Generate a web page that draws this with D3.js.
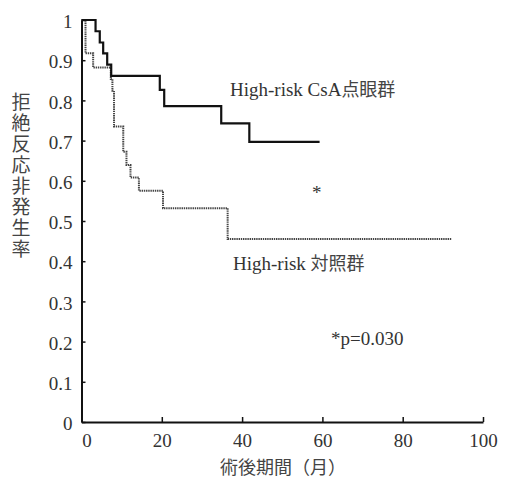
<!DOCTYPE html>
<html>
<head>
<meta charset="utf-8">
<script src="https://cdn.jsdelivr.net/npm/d3@7"></script>
<style>
  body { margin: 0; background: #fff; }
  svg { display: block; }
  .jp { font-family: "Noto Sans CJK JP", sans-serif; fill: #444; }
  .note { font-family: "Liberation Serif", serif; font-size: 19px; fill: #333; }
</style>
</head>
<body>
<div id="chart"></div>
<script>
// High-risk CsA eye-drop group (months, survival)
const csaMonths = [0, 3.5, 4.55, 5.4, 6.4, 7.4, 19.5, 20.6, 34.8, 41.8, 59.3];
const csaSurv   = [1, 0.972, 0.944, 0.917, 0.889, 0.861, 0.826, 0.786, 0.743, 0.697, 0.697];
// High-risk control group
const ctrlMonths = [0, 1.0, 2.9, 7.3, 7.7, 8.1, 10.4, 11.2, 12.2, 14.3, 20.3, 36.4, 92.2];
const ctrlSurv   = [1, 0.917, 0.882, 0.853, 0.824, 0.735, 0.672, 0.639, 0.608, 0.575, 0.532, 0.455, 0.455];

const xTicks = [0, 20, 40, 60, 80, 100];
const yTicks = [0, 0.1, 0.2, 0.3, 0.4, 0.5, 0.6, 0.7, 0.8, 0.9, 1];
const yTitle = "拒絶反応非発生率";

const width = 510, height = 478;
const svg = d3.select("#chart").append("svg").attr("width", width).attr("height", height);

const x = d3.scaleLinear().domain([0, 100]).range([81.5, 483]);
const y = d3.scaleLinear().domain([0, 1]).range([422, 20]);

// axes
const xAxis = svg.append("g")
  .attr("transform", "translate(0," + y(0) + ")")
  .call(d3.axisBottom(x).tickValues(xTicks).tickSizeInner(-5).tickSizeOuter(0).tickPadding(12)
    .tickFormat(d3.format("d")));
const yAxis = svg.append("g")
  .attr("transform", "translate(" + x(0) + ",0)")
  .call(d3.axisLeft(y).tickValues(yTicks).tickSizeInner(-4).tickSizeOuter(0).tickPadding(9)
    .tickFormat(d => d === 0 || d === 1 ? String(d) : d.toFixed(1)));

[xAxis, yAxis].forEach(g => {
  g.attr("font-family", "Liberation Serif, serif").attr("font-size", 19);
  g.select(".domain").attr("stroke", "#111").attr("stroke-width", 2);
  g.selectAll(".tick line").attr("stroke", "#111").attr("stroke-width", 1.5);
  g.selectAll(".tick text")
    .style("font-family", "'Liberation Serif', serif")
    .style("font-size", "19px")
    .attr("fill", "#333");
});
xAxis.select(".tick text").attr("dx", 5);
yAxis.selectAll(".tick text").attr("dy", "0.4em");

// curves
const line = d3.line().curve(d3.curveStepAfter).x(d => x(d[0])).y(d => y(d[1]));

svg.append("path")
  .datum(ctrlMonths.map((m, i) => [m, ctrlSurv[i]]))
  .attr("d", line)
  .attr("fill", "none")
  .attr("stroke", "#444")
  .attr("stroke-width", 2)
  .attr("stroke-dasharray", "1.4,0.8");

svg.append("path")
  .datum(csaMonths.map((m, i) => [m, csaSurv[i]]))
  .attr("d", line)
  .attr("fill", "none")
  .attr("stroke", "#111")
  .attr("stroke-width", 2.2);

// labels
const lab1 = svg.append("text").attr("class", "note").attr("x", 230).attr("y", 96);
lab1.append("tspan").text("High-risk CsA");
lab1.append("tspan").attr("class", "jp").attr("font-size", 18).text("点眼群");

const lab2 = svg.append("text").attr("class", "note").attr("x", 233).attr("y", 270);
lab2.append("tspan").text("High-risk ");
lab2.append("tspan").attr("class", "jp").attr("font-size", 18).text("対照群");

svg.append("text").attr("class", "note").attr("x", 312).attr("y", 199).attr("fill", "#666").text("*");
svg.append("text").attr("class", "note").attr("x", 331).attr("y", 345).text("*p=0.030");

// y title (vertical)
svg.append("text")
  .attr("class", "jp")
  .attr("font-size", 19)
  .attr("x", 21)
  .attr("y", 92)
  .style("writing-mode", "vertical-rl")
  .style("letter-spacing", "2px")
  .text(yTitle);

// x title
svg.append("text")
  .attr("class", "jp")
  .attr("font-size", 18)
  .attr("text-anchor", "middle")
  .attr("x", 283)
  .attr("y", 474)
  .text("術後期間（月）");
</script>
</body>
</html>
